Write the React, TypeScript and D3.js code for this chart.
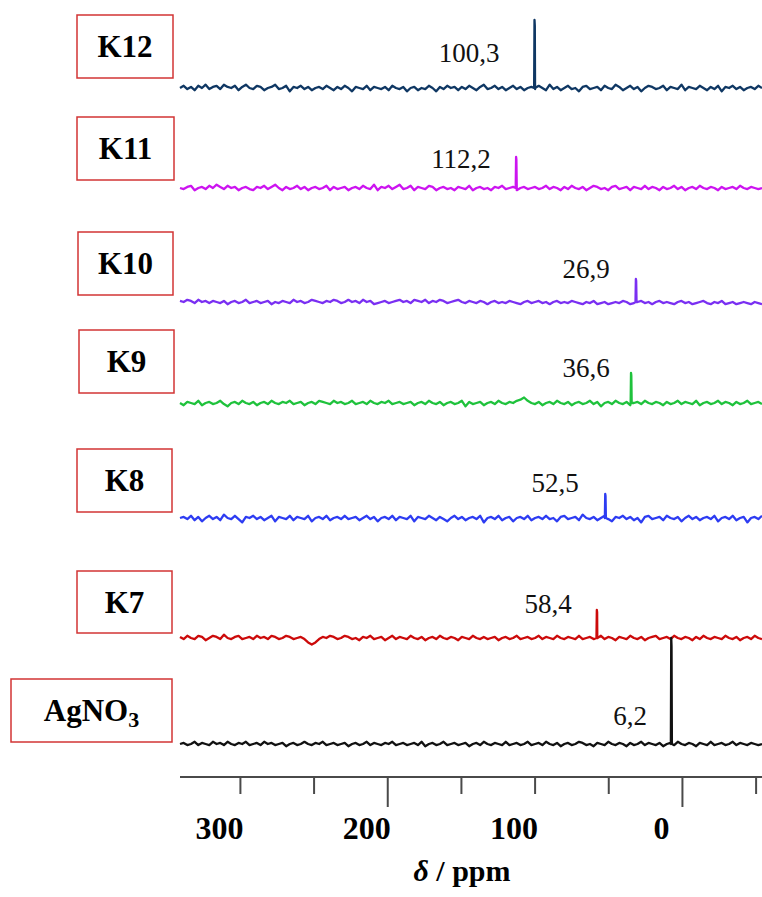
import React from 'react';
import * as d3 from 'd3';

// ---------- data ----------
const samples = ['K12', 'K11', 'K10', 'K9', 'K8', 'K7', 'AgNO3'];
const colors = ['#0f3763', '#cc14f0', '#7a2ff2', '#1fc23c', '#2d3cf2', '#cc0a0a', '#111111'];
const peakPpm = [100.3, 112.8, 31.5, 34.8, 52.3, 58.0, 7.5];
const peakHeight = [68, 31, 23, 30, 24, 28, 106];
const peakLabels = ['100,3', '112,2', '26,9', '36,6', '52,5', '58,4', '6,2'];
const xTicks = [300, 250, 200, 150, 100, 50, 0, -50];
const xMajorTicks = [200, 0];
const xTickLabels = [300, 200, 100, 0];
const ppmStart = 341;
const ppmEnd = -54;

const noiseK12 = [
  0,2,-1,1,-2,2,0,3,-1,1,2,-1,3,1,0,2,-2,1,3,0,-1,2,1,-2,0,1,3,-1,0,2,
  -3,1,0,2,-1,1,-2,0,1,-1,2,0,-2,1,-1,2,0,-3,1,0,-1,2,-2,1,0,-1,1,-2,2,0,
  -1,1,-3,0,1,-2,0,-1,2,0,-3,1,-1,2,0,1,-2,1,-1,2,0,-2,1,3,-1,0,2,-1,1,-2,
  0,2,-1,1,-2,0,1,-1,2,0,-2,3,-1,1,-2,0,2,-1,0,-3,1,2,-1,0,1,-2,2,0,-1,3,
  1,-2,0,2,-1,1,-3,0,2,1,-1,0,2,-2,1,0,-1,3,-2,1,0,-1,2,0,-2,1,-1,2,-3,1,
  0,2,-1,1,-2,0,1,-1,2,0,
];
const noiseK11 = [
  0,-1,1,2,-2,0,1,-1,2,0,3,1,-1,2,0,1,-2,0,1,-1,-2,1,0,2,-1,1,3,0,-2,1,
  -1,0,2,-1,1,-2,0,1,-1,0,2,-2,1,-1,0,1,-2,0,1,-1,2,0,-1,3,-2,1,0,2,-1,1,
  3,-1,0,2,-2,1,0,-1,2,1,-2,0,1,-1,0,-2,1,0,-1,2,-2,0,1,-1,0,-2,1,0,2,-1,
  0,1,-2,0,1,-1,0,1,-1,0,2,-1,1,0,-2,1,-1,2,0,-1,1,-2,0,2,1,-1,0,-2,1,2,
  -1,0,1,-2,1,0,-1,2,-1,1,0,-2,1,-1,0,2,-1,1,-2,0,1,-1,2,0,-1,1,0,-2,1,-1,
  0,1,-1,2,0,-1,1,0,-1,0,
];
const noiseK10 = [
  1,0,2,1,-1,2,0,1,-1,1,0,-1,1,-2,0,1,-1,0,2,-1,0,1,-1,0,1,-2,0,-1,1,0,
  -1,2,0,1,-1,0,2,1,0,-1,1,0,2,1,-1,0,2,0,1,-1,2,0,1,-2,-1,0,1,-1,0,1,
  2,0,1,-1,2,1,0,2,-1,1,0,2,1,-1,0,1,2,0,-1,1,0,-1,1,0,-2,0,1,-1,0,-1,
  1,0,-1,-2,0,1,-1,0,1,-1,0,-2,0,1,-1,0,-1,1,0,-1,-2,0,-1,1,-2,-1,0,-2,-1,0,
  -1,1,0,-2,-1,0,1,-1,0,-2,0,1,-1,0,-1,-2,0,1,-1,0,-2,-1,0,1,-1,-2,0,-1,1,-2,
  -1,0,-2,-1,0,-1,-2,0,-1,-2,
];
const noiseK9 = [
  0,-2,1,0,-1,2,-2,0,1,-1,0,2,-1,-3,0,1,-1,2,0,-1,1,-2,0,1,-1,2,0,-1,1,0,
  2,-1,0,1,-2,0,1,-1,2,1,0,-1,2,0,1,-1,0,2,-1,0,1,-1,2,0,-1,1,0,2,-1,0,
  1,-1,0,1,-2,0,1,-1,2,0,-1,1,-2,0,1,-1,0,2,-3,1,-1,0,1,-2,0,1,-1,2,0,-1,
  1,0,2,3,5,2,0,-1,1,-2,0,1,-1,2,0,-1,1,-2,0,1,-1,0,2,-1,1,-3,0,1,-1,2,
  0,-1,1,-2,0,1,-1,2,0,-1,1,0,-2,1,-1,0,2,-1,1,0,-1,2,-2,0,1,-1,0,2,-1,1,
  0,-2,1,-1,0,2,-1,0,1,-1,
];
const noiseK8 = [
  0,1,-1,2,-2,1,-3,0,2,-1,1,-2,3,0,-1,2,-1,-4,1,0,2,-1,1,-2,0,2,-3,1,0,-1,
  2,-2,1,0,-1,2,-3,0,1,-1,2,-2,0,1,-1,2,-1,0,1,-2,0,2,-1,1,-3,0,1,-1,2,-2,
  1,0,-1,2,-3,1,0,-1,2,0,-2,1,-1,-3,0,2,-1,1,-2,0,1,-1,2,-4,0,1,-1,2,-2,0,
  1,-3,0,1,-1,2,-2,0,1,-1,2,-1,0,-3,1,2,-1,0,1,-2,3,0,-1,1,-2,0,2,-1,-3,1,
  0,2,-1,1,-2,0,-4,1,2,-1,0,1,-2,2,0,-1,1,-3,0,2,-1,1,-2,0,1,-1,2,-3,0,1,
  -1,2,-2,0,1,-4,0,1,-1,2,
];
const noiseK7 = [
  1,-1,2,0,-1,2,1,-2,0,2,1,-1,3,0,-1,1,2,-1,0,1,-1,2,0,1,-1,2,1,-1,0,2,
  1,-1,0,1,-1,-4,-6,-4,-1,1,0,2,1,-1,0,2,1,-1,0,-2,1,0,2,-1,0,1,-2,0,2,-1,
  1,0,-1,2,0,-1,1,-2,0,1,-1,2,0,-1,1,0,-2,1,0,-1,2,0,-1,1,-1,0,1,-2,0,1,
  -1,0,2,-1,0,1,-1,0,2,-1,1,0,-1,2,0,-1,1,0,-1,2,-1,0,1,-1,0,2,-1,1,0,-2,
  1,0,-1,2,0,-1,1,-2,0,1,2,-1,0,1,-1,2,0,-1,1,0,-2,1,-1,2,0,-1,1,0,-1,2,
  0,-1,1,-2,0,1,-1,2,0,-1,
];
const noiseAg = [
  0,1,-1,0,2,-1,1,0,-1,2,0,1,-1,2,0,-1,1,0,2,-1,0,1,-1,2,0,1,-1,0,1,-2,
  0,1,-1,0,2,0,-1,1,0,2,-1,0,1,-1,0,1,-2,0,1,-1,0,2,-1,1,0,-1,1,0,2,-1,
  0,1,-1,0,1,-1,2,-2,0,1,-1,0,2,-1,0,1,-1,0,1,-2,0,1,-1,2,0,-1,1,0,-1,2,
  -1,0,1,-1,0,2,-1,0,1,-1,2,0,-1,1,-2,0,1,-1,0,2,1,-1,0,-2,1,0,-1,2,0,-1,
  1,0,-2,1,-1,0,2,-1,1,0,-1,1,-2,0,1,-1,2,0,-1,1,0,-2,1,0,-1,2,-1,0,1,-1,
  0,2,-1,1,0,-1,1,0,-1,0,
];
const noiseSets = [noiseK12, noiseK11, noiseK10, noiseK9, noiseK8, noiseK7, noiseAg];

// ---------- layout ----------
const W = 762;
const H = 897;
const plotLeft = 180;
const baselines = [88, 188, 302, 403, 518, 638, 744];
const boxes = [
  { x: 77, y: 15, w: 96, h: 63 },
  { x: 77, y: 117, w: 97, h: 63 },
  { x: 78, y: 232, w: 95, h: 63 },
  { x: 79, y: 330, w: 95, h: 63 },
  { x: 77, y: 449, w: 95, h: 63 },
  { x: 77, y: 571, w: 95, h: 62 },
  { x: 11, y: 679, w: 161, h: 63 },
];
const peakLabelPos = [
  { x: 469, y: 62 },
  { x: 461, y: 168 },
  { x: 586, y: 278 },
  { x: 586, y: 377 },
  { x: 555, y: 492 },
  { x: 548, y: 613 },
  { x: 630, y: 725 },
];
const axisY = 777;

const serif = 'Liberation Serif';

export default function App() {
  const x = d3.scaleLinear().domain([ppmStart, ppmEnd]).range([plotLeft, W]);
  const yInt = d3.scaleLinear().domain([0, 1]).range([0, -1]);

  const paths = samples.map((s, i) => {
    const n = noiseSets[i];
    const step = (ppmStart - ppmEnd) / (n.length - 1);
    const pts: [number, number][] = n.map((v, j) => [ppmStart - j * step, v * 1.1]);
    const p = peakPpm[i];
    pts.push([p + 0.35, 0], [p + 0.1, peakHeight[i]], [p - 0.1, peakHeight[i] * 0.92], [p - 0.35, 0]);
    pts.sort((a, b) => b[0] - a[0]);
    const line = d3
      .line<[number, number]>()
      .x((d) => x(d[0]))
      .y((d) => baselines[i] + yInt(d[1]));
    return line(pts) || '';
  });

  return (
    <svg
      width={W}
      height={H}
      viewBox={`0 0 ${W} ${H}`}
      style={{ position: 'absolute', left: 0, top: 0, background: '#fff' }}
    >
      <rect x={0} y={0} width={W} height={H} fill="#fff" />
      {samples.map((s, i) => (
        <g key={s}>
          <path d={paths[i]} fill="none" stroke={colors[i]} strokeWidth={2.3} strokeLinejoin="round" />
          <rect
            x={boxes[i].x}
            y={boxes[i].y}
            width={boxes[i].w}
            height={boxes[i].h}
            fill="#fff"
            stroke="#d23434"
            strokeWidth={1.5}
          />
          <text
            x={boxes[i].x + boxes[i].w / 2}
            y={boxes[i].y + 42}
            textAnchor="middle"
            fontFamily={serif}
            fontWeight="bold"
            fontSize={31}
            fill="#000"
          >
            {s === 'AgNO3' ? (
              <>
                AgNO<tspan fontSize={22} dy={6}>3</tspan>
              </>
            ) : (
              s
            )}
          </text>
          <text
            x={peakLabelPos[i].x}
            y={peakLabelPos[i].y}
            textAnchor="middle"
            fontFamily={serif}
            fontSize={27}
            fill="#111"
          >
            {peakLabels[i]}
          </text>
        </g>
      ))}
      {/* x axis */}
      <line x1={plotLeft} x2={W} y1={axisY} y2={axisY} stroke="#4a4a4a" strokeWidth={2} />
      {xTicks.map((t) => (
        <line
          key={t}
          x1={x(t)}
          x2={x(t)}
          y1={axisY}
          y2={xMajorTicks.includes(t) ? 807 : 794}
          stroke="#4a4a4a"
          strokeWidth={2}
        />
      ))}
      {xTickLabels.map((t) => (
        <text
          key={t}
          x={x(t) - 21}
          y={839}
          textAnchor="middle"
          fontFamily={serif}
          fontWeight="bold"
          fontSize={32}
          fill="#000"
        >
          {t}
        </text>
      ))}
      <text x={462} y={881} textAnchor="middle" fontFamily={serif} fontWeight="bold" fontSize={30} fill="#000">
        <tspan fontStyle="italic">δ</tspan> / ppm
      </text>
    </svg>
  );
}
